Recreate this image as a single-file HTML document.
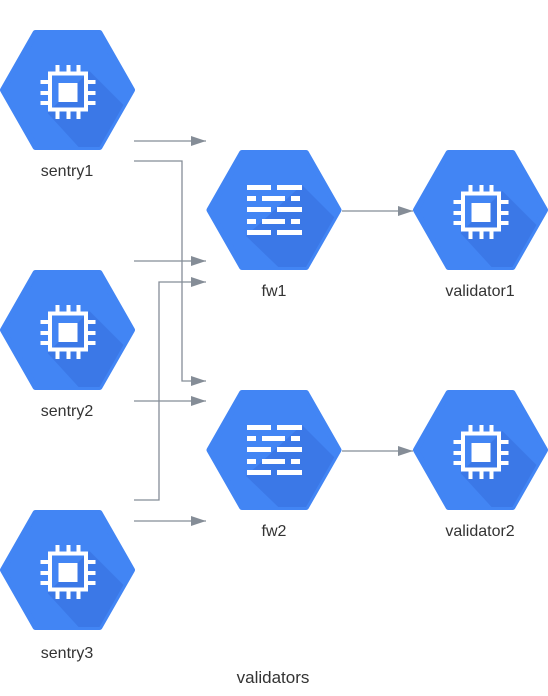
<!DOCTYPE html>
<html><head><meta charset="utf-8"><style>
html,body{margin:0;padding:0;background:#fff;width:548px;height:696px;overflow:hidden;}
svg{display:block;}
text{font-family:"Liberation Sans",sans-serif;font-size:16px;fill:#333;text-anchor:middle;}
</style></head><body>
<svg width="548" height="696" viewBox="0 0 548 696" xmlns="http://www.w3.org/2000/svg">
<defs>
<clipPath id="hx"><path d="M-32,-57 L32,-57 L64.5,0 L32,57 L-32,57 L-64.5,0 Z"/></clipPath>
<g id="hex">
<path d="M-32,-57 L32,-57 L64.5,0 L32,57 L-32,57 L-64.5,0 Z" fill="#4285f4" stroke="#4285f4" stroke-width="6" stroke-linejoin="round"/>
</g>
<g id="chip">
<use href="#hex"/>
<polygon clip-path="url(#hx)" points="22,-19 200,159 150,209 -20,23" fill="#3b78e7"/>
<rect x="-17.5" y="-16.5" width="36" height="36" fill="none" stroke="#fff" stroke-width="4"/>
<rect x="-9" y="-7" width="19" height="19" fill="#fff"/>
<g fill="#fff">
<rect x="-12" y="-25" width="4" height="8"/><rect x="-1" y="-25" width="4" height="8"/><rect x="9" y="-25" width="4" height="8"/>
<rect x="-12" y="21" width="4" height="8"/><rect x="-1" y="21" width="4" height="8"/><rect x="9" y="21" width="4" height="8"/>
<rect x="-27" y="-10" width="8" height="4"/><rect x="-27" y="1" width="8" height="4"/><rect x="-27" y="11" width="8" height="4"/>
<rect x="20" y="-10" width="8" height="4"/><rect x="20" y="1" width="8" height="4"/><rect x="20" y="11" width="8" height="4"/>
</g>
</g>
<g id="fw">
<use href="#hex"/>
<polygon clip-path="url(#hx)" points="28,-25 200,147 150,197 -28,26" fill="#3b78e7"/>
<g fill="#fff">
<rect x="-27" y="-25" width="24" height="5"/><rect x="3" y="-25" width="25" height="5"/>
<rect x="-27" y="-14" width="9" height="5"/><rect x="-12" y="-14" width="23" height="5"/><rect x="17" y="-14" width="9" height="5"/>
<rect x="-27" y="-3" width="24" height="5"/><rect x="3" y="-3" width="25" height="5"/>
<rect x="-27" y="9" width="9" height="5"/><rect x="-12" y="9" width="23" height="5"/><rect x="17" y="9" width="9" height="5"/>
<rect x="-27" y="20" width="24" height="5"/><rect x="3" y="20" width="25" height="5"/>
</g>
</g>
<marker id="ar" markerWidth="16" markerHeight="10" refX="15" refY="5" orient="auto" markerUnits="userSpaceOnUse">
<path d="M0,0 L15,5 L0,10 Z" fill="#858d97"/>
</marker>
</defs>

<use href="#chip" x="67.5" y="90"/>
<use href="#chip" x="67.5" y="330"/>
<use href="#chip" x="67.5" y="570"/>
<use href="#fw" x="274" y="210"/>
<use href="#fw" x="274" y="450"/>
<use href="#chip" x="480.5" y="210"/>
<use href="#chip" x="480.5" y="450"/>

<g fill="none" stroke="#858d97" stroke-width="1.3" marker-end="url(#ar)">
<path d="M134,141 H206"/>
<path d="M134,161 H182 V381 H206"/>
<path d="M134,261 H206"/>
<path d="M134,401 H206"/>
<path d="M134,500 H159 V282 H206"/>
<path d="M134,521 H206"/>
<path d="M342,211 H413"/>
<path d="M342,451 H413"/>
</g>

<text x="67" y="176">sentry1</text>
<text x="67" y="416">sentry2</text>
<text x="67" y="658">sentry3</text>
<text x="274" y="296">fw1</text>
<text x="274" y="536">fw2</text>
<text x="480" y="296">validator1</text>
<text x="480" y="536">validator2</text>
<text x="273" y="683" style="font-size:17px">validators</text>
</svg>
</body></html>
